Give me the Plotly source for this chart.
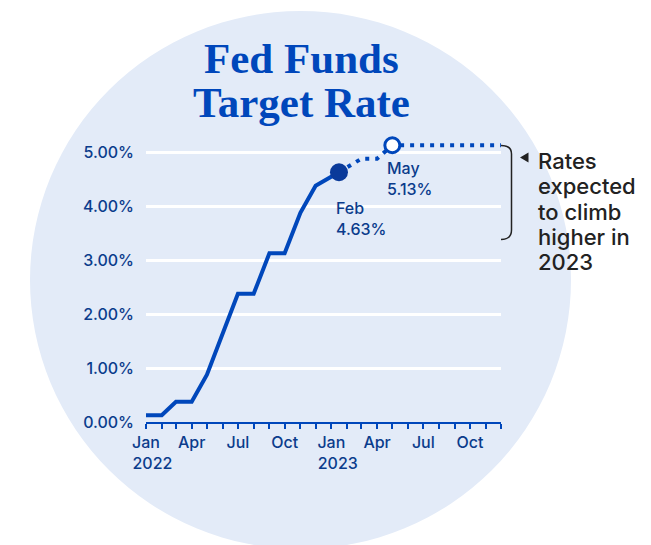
import plotly.graph_objects as go

# ---------------- data ----------------
actual_dates = ["2022-01-01", "2022-02-01", "2022-03-01", "2022-04-01", "2022-05-01",
                "2022-06-01", "2022-07-01", "2022-08-01", "2022-09-01", "2022-10-01",
                "2022-11-01", "2022-12-01", "2023-01-16"]
actual_rates = [0.125, 0.125, 0.375, 0.375, 0.875,
                1.625, 2.375, 2.375, 3.125, 3.125,
                3.875, 4.375, 4.625]

projected_dates = ["2023-01-16", "2023-03-01", "2023-04-01", "2023-05-01", "2023-12-01"]
projected_rates = [4.625, 4.875, 4.875, 5.125, 5.125]

feb_date, feb_rate, feb_label = "2023-01-16", 4.625, "Feb<br>4.63%"
may_date, may_rate, may_label = "2023-05-01", 5.125, "May<br>5.13%"

ytick_vals = [0, 1, 2, 3, 4, 5]
ytick_text = ["0.00%", "1.00%", "2.00%", "3.00%", "4.00%", "5.00%"]

month_ticks = ["2022-%02d-01" % m for m in range(1, 13)] + ["2023-%02d-01" % m for m in range(1, 13)]
NB = "\u00a0"
month_text = ["Jan<br>" + NB * 3 + "2022", "", "", "Apr", "", "", "Jul", "", "", "Oct", "", "",
              "Jan<br>" + NB * 3 + "2023", "", "", "Apr", "", "", "Jul", "", "", "Oct", "", ""]

title_lines = ["Fed Funds", "Target Rate"]
side_note_lines = ["Rates", "expected", "to climb", "higher in", "2023"]

# ---------------- layout geometry (pixels) ----------------
W, H = 651, 545
L, R, T, B = 146, 150, 125, 123
PW, PH = W - L - R, H - T - B
BOTTOM = H - B


def px(x):
    return (x - L) / PW


def py(y):
    return (BOTTOM - y) / PH


BLUE = "#0047BB"
NAVY = "#0B3C8C"
DARK = "#0A3A9A"
CIRCLE = "#E3EBF8"
TXT = "#222222"
SANS = "Inter"
TICKFONT = dict(family=SANS, size=16, color=NAVY, weight=500)

fig = go.Figure()

fig.add_trace(go.Scatter(
    x=actual_dates, y=actual_rates, mode="lines",
    line=dict(color=BLUE, width=4), hoverinfo="skip", showlegend=False))

fig.add_trace(go.Scatter(
    x=projected_dates, y=projected_rates, mode="lines",
    line=dict(color=BLUE, width=4, dash="4px,6px"), hoverinfo="skip", showlegend=False))

fig.add_trace(go.Scatter(
    x=[feb_date], y=[feb_rate], mode="markers",
    marker=dict(size=18, color=DARK, line=dict(width=0)),
    hoverinfo="skip", showlegend=False))

fig.add_trace(go.Scatter(
    x=[may_date], y=[may_rate], mode="markers",
    marker=dict(size=15, color="white", line=dict(width=3, color=BLUE)),
    hoverinfo="skip", showlegend=False))

shapes = [
    dict(type="circle", xref="paper", yref="paper", layer="below",
         x0=px(30), x1=px(571), y0=py(549), y1=py(11),
         fillcolor=CIRCLE, line=dict(width=0)),
    # bracket
    dict(type="path", xref="paper", yref="paper",
         path=("M {a},{b} Q {c},{b} {c},{d} L {c},{e} Q {c},{f} {a},{f}").format(
             a=px(501), b=py(145.5), c=px(511.5), d=py(154), e=py(230), f=py(239.5)),
         line=dict(color=TXT, width=1.5)),
    # pointer triangle
    dict(type="path", xref="paper", yref="paper",
         path="M {x0},{y0} L {x1},{y1} L {x1},{y2} Z".format(
             x0=px(520), y0=py(157.5), x1=px(528.5), y1=py(152.5), y2=py(162.5)),
         fillcolor=TXT, line=dict(width=0)),
]

annotations = [
    dict(text=title_lines[0], xref="paper", yref="paper", x=px(301), y=py(58),
         xanchor="center", yanchor="middle", showarrow=False,
         font=dict(family="Liberation Serif", size=43, color=BLUE, weight="bold")),
    dict(text=title_lines[1], xref="paper", yref="paper", x=px(301), y=py(102),
         xanchor="center", yanchor="middle", showarrow=False,
         font=dict(family="Liberation Serif", size=43, color=BLUE, weight="bold")),
    dict(text=feb_label, x=feb_date, y=feb_rate, xref="x", yref="y",
         xanchor="left", yanchor="top", align="left", showarrow=False,
         xshift=-5, yshift=-24,
         font=dict(family=SANS, size=16, color=NAVY, weight=500)),
    dict(text=may_label, x=may_date, y=may_rate, xref="x", yref="y",
         xanchor="left", yanchor="top", align="left", showarrow=False,
         xshift=-7, yshift=-11,
         font=dict(family=SANS, size=16, color=NAVY, weight=500)),
]

# side note: one line per annotation so the line spacing can match (25.3px)
for i, line in enumerate(side_note_lines):
    baseline = 169.0 + i * 25.3
    annotations.append(dict(
        text=line, xref="paper", yref="paper", x=px(536), y=py(baseline - 8.0),
        xanchor="left", yanchor="middle", align="left", showarrow=False,
        font=dict(family=SANS, size=22, color=TXT, weight=500)))

fig.update_layout(
    width=W, height=H,
    margin=dict(l=L, r=R, t=T, b=B, pad=0),
    paper_bgcolor="white", plot_bgcolor="rgba(0,0,0,0)",
    shapes=shapes, annotations=annotations,
    xaxis=dict(type="date", range=["2022-01-01", "2023-12-01"],
               tickmode="array", tickvals=month_ticks, ticktext=month_text,
               ticks="outside", ticklen=5, tickwidth=2, tickcolor=BLUE,
               showline=True, linecolor=BLUE, linewidth=2,
               showgrid=False, zeroline=False, tickfont=TICKFONT,
               automargin=False, fixedrange=True),
    yaxis=dict(range=[0, 5.5], tickmode="array", tickvals=ytick_vals, ticktext=ytick_text,
               showgrid=True, gridcolor="white", gridwidth=3,
               showline=False, zeroline=False, ticks="", ticklabelstandoff=11,
               tickfont=TICKFONT, automargin=False, fixedrange=True),
    showlegend=False,
)

fig.write_html("out.html")
